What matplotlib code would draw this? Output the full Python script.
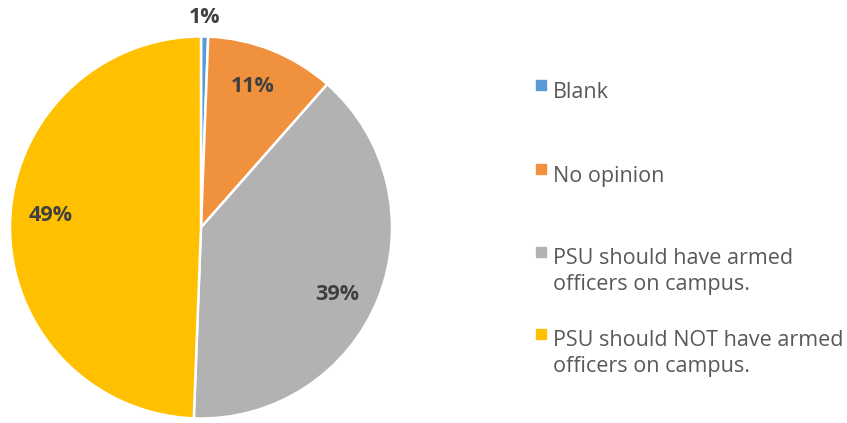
import numpy as np
import matplotlib.pyplot as plt
from matplotlib.patches import Rectangle

labels = ["Blank", "No opinion",
          "PSU should have armed\nofficers on campus.",
          "PSU should NOT have armed\nofficers on campus."]
shares = [0.6, 10.9, 39.1, 49.4]
colors = ["#5B9BD5", "#F0913D", "#B2B2B2", "#FFC000"]
# percentage label placement: radius fraction and nudge (deg) from slice middle
label_dist = [1.10, 0.785, 0.795, 0.79]
label_nudge = [0, 1.6, -4.4, -3.6]
legend_y = [91, 175, 257, 339]  # pixel rows of the first text line centre

W, H = 847, 423
fig = plt.figure(figsize=(W / 100, H / 100), dpi=100)
plt.rcParams["font.family"] = ["Open Sans", "DejaVu Sans"]

ax = fig.add_axes([10 / W, (H - 418.5) / H, 382 / W, 382 / H])
wedges, _ = ax.pie(shares, colors=colors, startangle=90, counterclock=False,
                   radius=1, wedgeprops=dict(edgecolor="white", linewidth=1.8))
ax.set_xlim(-1, 1)
ax.set_ylim(-1, 1)
ax.set_aspect("equal")

for w, s, d, n in zip(wedges, shares, label_dist, label_nudge):
    mid = np.deg2rad((w.theta1 + w.theta2) / 2 + n)
    ax.text(d * np.cos(mid), d * np.sin(mid), f"{round(s)}%",
            ha="center", va="center", fontsize=15.5, fontweight="bold",
            color="#404040")

# legend drawn by hand so multi-line entries keep the box on the first line
for lab, c, y in zip(labels, colors, legend_y):
    fig.patches.append(Rectangle((536 / W, (H - y + 0.5) / H), 10 / W, 10 / H,
                                 transform=fig.transFigure, color=c))
    fig.text(553 / W, (H - y + 9) / H, lab, ha="left", va="top",
             fontsize=15.5, color="#595959", linespacing=1.32,
             transform=fig.transFigure)

fig.savefig("out.png", dpi=100)
